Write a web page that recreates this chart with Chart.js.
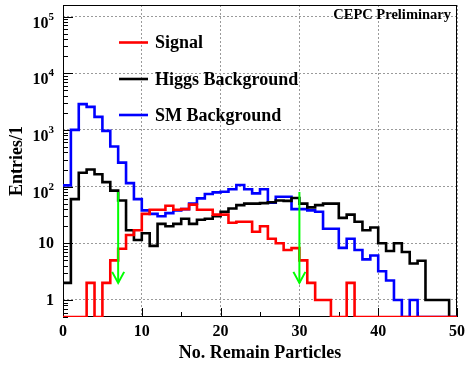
<!DOCTYPE html>
<html>
<head>
<meta charset="utf-8">
<script src="https://cdn.jsdelivr.net/npm/chart.js@4.4.0/dist/chart.umd.min.js"></script>
<style>
  html, body { margin: 0; padding: 0; background: #fff; }
  #wrap { width: 470px; height: 371px; position: relative; }
</style>
</head>
<body>
<div id="wrap"><canvas id="c"></canvas></div>
<script>
/* ---------------- Data (one entry per bin, width 1, from 0 to 50) ---------------- */
const signal = [
  0, 0, 0, 2, 0, 2, 5, 8, 14, 17,
  33, 39, 39, 46, 39, 40, 48, 39, 39, 32,
  32, 23, 24, 24, 16, 20, 12, 10, 7.6, 8.2,
  5, 2, 1, 1, 0, 0, 2, 0, 0, 0,
  0, 0, 0, 0, 0, 0, 0, 0, 0, 0
];
const higgsBkg = [
  2, 60, 175, 200, 165, 120, 85, 57, 17, 11.4,
  15, 9, 22, 20, 22, 27, 22, 26, 27, 30,
  36, 41, 47, 50, 50, 51, 53, 57, 56, 63,
  50, 43, 47, 50, 50, 28, 32, 24, 17, 19,
  10, 7.3, 10, 7, 4.4, 4.9, 1, 1, 1, 0
];
const smBkg = [
  105, 1000, 2850, 2550, 1700, 960, 510, 265, 115, 60,
  38, 33, 30, 34, 38, 40, 50, 62, 74, 79,
  81, 90, 107, 90, 76, 90, 52, 66, 66, 40,
  40, 38, 36, 18, 18, 8.3, 12, 7.6, 5.2, 6.1,
  3.2, 2.2, 1, 0, 1, 0, 0, 0, 0, 0
];
const seriesNames = ["Signal", "Higgs Background", "SM Background"];
const seriesColors = ["#ff0000", "#000000", "#0000ff"];

const yMajorTicks = [1, 10, 100, 1000, 10000, 100000];
const cutValues = [7, 30];      // green arrows
const arrowTop = 80, arrowTip = 2;

const X_MIN = 0, X_MAX = 50;
const Y_MIN = 0.5, Y_MAX = 1.6e5;
const FONT = '"Liberation Serif", "Times New Roman", serif';

/* ---------------- Helpers ---------------- */
// bin i -> point at its low edge, plus a closing point at the last edge
function hist(label, vals, color, order){
  const pts = vals.map((v, i) => ({ x: X_MIN + i, y: v > 0 ? v : Y_MIN }));
  pts.push({ x: X_MIN + vals.length, y: pts[pts.length - 1].y });
  return {
    label, data: pts, order,
    borderColor: color, borderWidth: 2.6,
    stepped: true, pointRadius: 0, fill: false,
    borderJoinStyle: "miter", borderCapStyle: "butt"
  };
}

const arrowSets = cutValues.map(c => ({
  label: "cut", order: -1,
  data: [{ x: c, y: arrowTop }, { x: c, y: arrowTip }],
  borderColor: "#00ff00", borderWidth: 2, pointRadius: 0, fill: false
}));

/* ---------------- ROOT-ish decorations ---------------- */
const rootStyle = {
  id: "rootStyle",
  beforeDatasetsDraw(chart){
    const { ctx, chartArea: a, scales: { x, y } } = chart;
    ctx.save();
    ctx.strokeStyle = "#000";
    ctx.lineWidth = 1;
    ctx.strokeRect(a.left + 0.5, a.top + 0.5, a.right - a.left - 1, a.bottom - a.top - 1);
    ctx.beginPath();
    for (let v = X_MIN; v <= X_MAX; v += 5){
      const px = Math.round(x.getPixelForValue(v)) + 0.5;
      const len = v % 10 === 0 ? 9 : 5;
      ctx.moveTo(px, a.bottom); ctx.lineTo(px, a.bottom - len);
    }
    [0.1].concat(yMajorTicks).forEach(d => {
      for (let m = 1; m < 10; m++){
        const v = d * m;
        if (v < Y_MIN || v > Y_MAX) continue;
        const py = Math.round(y.getPixelForValue(v)) + 0.5;
        const len = m === 1 ? 10 : 5;
        ctx.moveTo(a.left, py); ctx.lineTo(a.left + len, py);
      }
    });
    ctx.stroke();
    ctx.restore();
  },
  afterDatasetsDraw(chart){
    const { ctx, scales: { x, y } } = chart;
    ctx.save();
    ctx.strokeStyle = "#00ff00";
    ctx.lineWidth = 2;
    cutValues.forEach(c => {
      const px = x.getPixelForValue(c), py = y.getPixelForValue(arrowTip);
      ctx.beginPath();
      ctx.moveTo(px - 6, py - 11); ctx.lineTo(px, py); ctx.lineTo(px + 6, py - 11);
      ctx.stroke();
    });
    ctx.restore();
  },
  afterDraw(chart){
    const { ctx, chartArea: a, scales: { y } } = chart;
    ctx.save();
    ctx.fillStyle = "#000";

    // y labels, 10^n with a raised exponent
    ctx.textAlign = "right";
    yMajorTicks.forEach(v => {
      const py = y.getPixelForValue(v);
      const e = Math.round(Math.log10(v));
      if (e < 2){
        ctx.font = `bold 16px ${FONT}`;
        ctx.textBaseline = "middle";
        ctx.fillText(String(v), 54, py + 1);
      } else {
        ctx.textBaseline = "alphabetic";
        ctx.font = `bold 11px ${FONT}`;
        ctx.fillText(String(e), 54, py + 3);
        const ew = ctx.measureText(String(e)).width;
        ctx.font = `bold 16px ${FONT}`;
        ctx.fillText("10", 54 - ew, py + 11);
      }
    });

    // legend
    const rows = [42.5, 79, 115];
    ctx.textAlign = "left";
    ctx.textBaseline = "alphabetic";
    ctx.font = `bold 18px ${FONT}`;
    seriesNames.forEach((name, i) => {
      ctx.strokeStyle = seriesColors[i];
      ctx.lineWidth = 2.6;
      ctx.beginPath();
      ctx.moveTo(119, rows[i]); ctx.lineTo(148, rows[i]);
      ctx.stroke();
      ctx.fillText(name, 155, rows[i] + 5.8);
    });

    // tag
    ctx.textAlign = "right";
    ctx.font = `bold 14.5px ${FONT}`;
    ctx.fillText("CEPC Preliminary", a.right - 6, 19);
    ctx.restore();
  }
};

/* ---------------- Chart ---------------- */
const gridOpts = { color: "#9a9a9a", lineWidth: 1, drawTicks: false };
const borderOpts = { display: false, dash: [2, 2] };

new Chart(document.getElementById("c"), {
  type: "line",
  data: {
    datasets: [
      ...arrowSets,
      hist(seriesNames[0], signal, seriesColors[0], 0),
      hist(seriesNames[1], higgsBkg, seriesColors[1], 1),
      hist(seriesNames[2], smBkg, seriesColors[2], 2)
    ]
  },
  options: {
    responsive: true, maintainAspectRatio: false, animation: false,
    layout: { padding: { left: 0, right: 12, top: 5, bottom: 0 } },
    plugins: { legend: { display: false }, tooltip: { enabled: false } },
    scales: {
      x: {
        type: "linear", min: X_MIN, max: X_MAX,
        grid: gridOpts, border: borderOpts,
        ticks: { stepSize: 10, maxRotation: 0, autoSkip: false, padding: 5, color: "#000",
                 font: { family: FONT, size: 16, weight: "bold" } },
        title: { display: true, text: "No. Remain Particles", color: "#000",
                 font: { family: FONT, size: 18, weight: "bold" }, padding: { top: 0, bottom: 7 } },
        afterFit: s => { s.height = 54; }
      },
      y: {
        type: "logarithmic", min: Y_MIN, max: Y_MAX, bounds: "data",
        grid: gridOpts, border: borderOpts,
        ticks: { display: false },
        afterBuildTicks: s => { s.ticks = yMajorTicks.map(v => ({ value: v })); },
        title: { display: true, text: "Entries/1", color: "#000",
                 font: { family: FONT, size: 18, weight: "bold" }, padding: { top: 7, bottom: 0 } },
        afterFit: s => { s.width = 63; }
      }
    }
  },
  plugins: [rootStyle]
});
</script>
</body>
</html>
